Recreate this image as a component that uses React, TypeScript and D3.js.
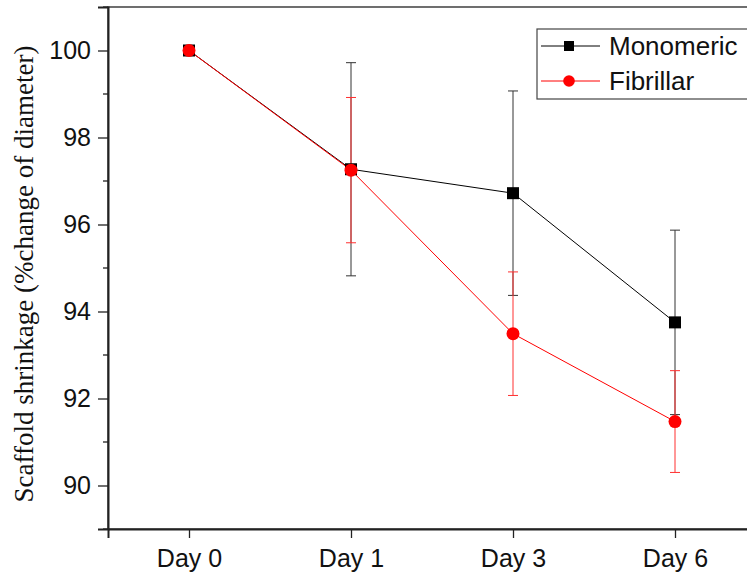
import { useEffect, useRef } from 'react';
import * as d3 from 'd3';

// Data
const days = ['Day 0', 'Day 1', 'Day 3', 'Day 6'];
const monomeric = [100, 97.27, 96.72, 93.75];
const monomericErr = [0, 2.45, 2.35, 2.12];
const fibrillar = [100, 97.25, 93.49, 91.47];
const fibrillarErr = [0, 1.67, 1.42, 1.17];
const yTicks = [90, 92, 94, 96, 98, 100];
const yMinorTicks = [89, 91, 93, 95, 97, 99, 101];

function App() {
  const ref = useRef<SVGSVGElement>(null);

  const width = 747;
  const height = 579;
  const margin = { top: 7, left: 108, right: -9, bottom: 50 };

  useEffect(() => {
    const svg = d3.select(ref.current);
    svg.selectAll('*').remove();

    const x = d3
      .scalePoint()
      .domain(days)
      .range([margin.left, width - margin.right])
      .padding(0.5);
    const y = d3
      .scaleLinear()
      .domain([89, 101])
      .range([height - margin.bottom, margin.top]);

    const labelFont = '"Liberation Sans", Arial, sans-serif';

    // Frame
    svg
      .append('rect')
      .attr('x', margin.left)
      .attr('y', margin.top)
      .attr('width', width - margin.right - margin.left)
      .attr('height', height - margin.bottom - margin.top)
      .attr('fill', 'none')
      .attr('stroke', '#222')
      .attr('stroke-width', 1.3);

    // Y axis
    const yAxis = svg.append('g').attr('transform', `translate(${margin.left},0)`);
    yAxis
      .call(d3.axisLeft(y).tickValues(yTicks).tickSize(10).tickPadding(7).tickFormat(d3.format('d')))
      .call((g) => g.select('.domain').attr('stroke', '#222').attr('stroke-width', 2))
      .call((g) => g.selectAll('.tick line').attr('stroke', '#222').attr('stroke-width', 1.3))
      .call((g) =>
        g.selectAll('.tick text').attr('font-size', 25).attr('font-family', labelFont).attr('fill', '#111')
      );
    yAxis
      .selectAll('line.minor')
      .data(yMinorTicks)
      .enter()
      .append('line')
      .attr('class', 'minor')
      .attr('x1', -5)
      .attr('x2', 0)
      .attr('y1', (d) => y(d))
      .attr('y2', (d) => y(d))
      .attr('stroke', '#222')
      .attr('stroke-width', 1.3);

    // X axis
    svg
      .append('g')
      .attr('transform', `translate(0,${height - margin.bottom})`)
      .call(d3.axisBottom(x).tickSize(9).tickPadding(11))
      .call((g) => g.select('.domain').attr('stroke', '#222').attr('stroke-width', 2))
      .call((g) => g.selectAll('.tick line').attr('stroke', '#222').attr('stroke-width', 1.3))
      .call((g) =>
        g.selectAll('.tick text').attr('font-size', 25).attr('font-family', labelFont).attr('fill', '#111')
      );

    // Y title
    svg
      .append('text')
      .attr('transform', `translate(33,274) rotate(-90)`)
      .attr('text-anchor', 'middle')
      .attr('font-family', '"Liberation Serif", "Times New Roman", serif')
      .attr('font-size', 27)
      .attr('fill', '#111')
      .text('Scaffold shrinkage (%change of diameter)');

    const series = [
      { name: 'Monomeric', values: monomeric, err: monomericErr, color: '#000', errColor: '#333', shape: 'square' },
      { name: 'Fibrillar', values: fibrillar, err: fibrillarErr, color: '#ff0000', errColor: '#ff3030', shape: 'circle' },
    ];

    const line = d3
      .line<number>()
      .x((_, i) => x(days[i]) as number)
      .y((d) => y(d));

    series.forEach((s) => {
      const g = svg.append('g');
      // error bars
      s.values.forEach((v, i) => {
        if (!s.err[i]) return;
        const cx = x(days[i]) as number;
        const top = y(v + s.err[i]);
        const bot = y(v - s.err[i]);
        g.append('line').attr('x1', cx).attr('x2', cx).attr('y1', top).attr('y2', bot)
          .attr('stroke', s.errColor).attr('stroke-width', 1);
        [top, bot].forEach((yy) => {
          g.append('line').attr('x1', cx - 5).attr('x2', cx + 5).attr('y1', yy).attr('y2', yy)
            .attr('stroke', s.errColor).attr('stroke-width', 1);
        });
      });
      g.append('path')
        .datum(s.values)
        .attr('d', line)
        .attr('fill', 'none')
        .attr('stroke', s.color)
        .attr('stroke-width', 1);
    });

    series.forEach((s) => {
      const g = svg.append('g');
      s.values.forEach((v, i) => {
        const cx = x(days[i]) as number;
        const cy = y(v);
        if (s.shape === 'square') {
          g.append('rect').attr('x', cx - 6).attr('y', cy - 6).attr('width', 12).attr('height', 12)
            .attr('fill', s.color);
        } else {
          g.append('circle').attr('cx', cx).attr('cy', cy).attr('r', 6.5).attr('fill', s.color);
        }
      });
    });

    // Legend
    const lg = svg.append('g').attr('transform', 'translate(537,29)');
    lg.append('rect').attr('x', 0).attr('y', 0).attr('width', 230).attr('height', 70)
      .attr('fill', '#fff').attr('stroke', '#444').attr('stroke-width', 1.2);
    series.forEach((s, i) => {
      const yy = 17 + i * 35;
      lg.append('line').attr('x1', 4).attr('x2', 63).attr('y1', yy).attr('y2', yy)
        .attr('stroke', s.color).attr('stroke-width', 1);
      if (s.shape === 'square') {
        lg.append('rect').attr('x', 27).attr('y', yy - 5).attr('width', 10).attr('height', 10).attr('fill', s.color);
      } else {
        lg.append('circle').attr('cx', 32).attr('cy', yy).attr('r', 5.8).attr('fill', s.color);
      }
      lg.append('text').attr('x', 72).attr('y', yy).attr('dominant-baseline', 'central')
        .attr('font-family', labelFont).attr('font-size', 26).attr('fill', '#111').text(s.name);
    });
  }, []);

  return (
    <svg
      ref={ref}
      width={width}
      height={height}
      style={{ position: 'absolute', left: 0, top: 0, background: '#fff' }}
    />
  );
}

export default App;
